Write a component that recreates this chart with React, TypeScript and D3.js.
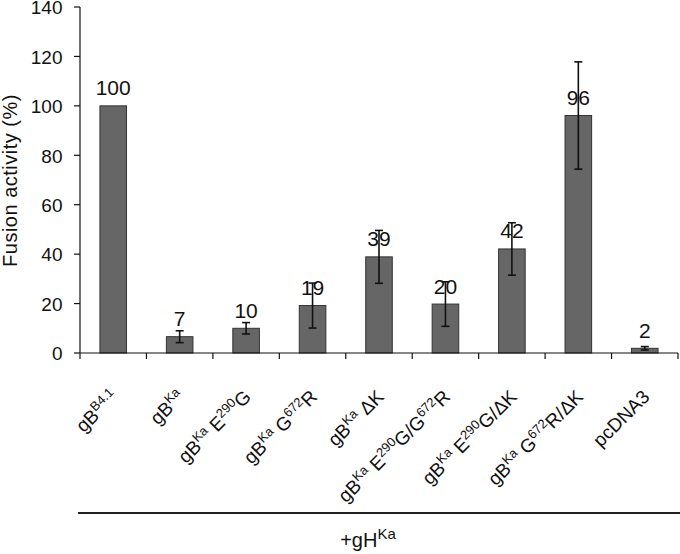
import React from "react";
import * as d3 from "d3";

const categories = [
  "gB^{B4.1}",
  "gB^{Ka}",
  "gB^{Ka} E^{290}G",
  "gB^{Ka} G^{672}R",
  "gB^{Ka} ΔK",
  "gB^{Ka} E^{290}G/G^{672}R",
  "gB^{Ka} E^{290}G/ΔK",
  "gB^{Ka} G^{672}R/ΔK",
  "pcDNA3",
];
const values = [100, 6.6, 10.0, 19.2, 38.9, 19.8, 42.1, 96.1, 1.9];
const errors = [0, 2.4, 2.3, 9.1, 10.7, 9.0, 10.6, 21.7, 0.7];
const valueLabels = ["100", "7", "10", "19", "39", "20", "42", "96", "2"];
const yTicks = [0, 20, 40, 60, 80, 100, 120, 140];
const yTitle = "Fusion activity (%)";
const groupLabel = "+gH^{Ka}";

const W = 680;
const H = 554;
const FONT = "'Liberation Sans', Arial, Helvetica, sans-serif";

function parse(s: string) {
  const parts: { t: string; sup: boolean }[] = [];
  const re = /\^\{([^}]*)\}/g;
  let last = 0;
  let m: RegExpExecArray | null;
  while ((m = re.exec(s))) {
    if (m.index > last) parts.push({ t: s.slice(last, m.index), sup: false });
    parts.push({ t: m[1], sup: true });
    last = m.index + m[0].length;
  }
  if (last < s.length) parts.push({ t: s.slice(last), sup: false });
  return parts;
}

function Rich({ s, size, supSize, rise }: { s: string; size: number; supSize: number; rise: number }) {
  const parts = parse(s);
  let cur = 0;
  return (
    <>
      {parts.map((p, i) => {
        const target = p.sup ? -rise : 0;
        const dy = target - cur;
        cur = target;
        return (
          <tspan key={i} dy={dy} fontSize={p.sup ? supSize : size}>
            {p.t}
          </tspan>
        );
      })}
    </>
  );
}

export default function App() {
  const left = 80;
  const right = 678;
  const x = d3
    .scaleBand<string>()
    .domain(categories)
    .range([left, right])
    .paddingInner(0.6)
    .paddingOuter(0.3);
  const y = d3.scaleLinear().domain([0, 140]).range([353, 7]);
  const step = x.step();
  const bw = x.bandwidth();
  const y0 = y(0);

  return (
    <svg
      width={W}
      height={H}
      style={{ position: "absolute", left: 0, top: 0, background: "#fff" }}
      fontFamily={FONT}
    >
      <rect width={W} height={H} fill="#fff" />
      {/* bars */}
      {categories.map((c, i) => (
        <rect
          key={c}
          x={x(c)!}
          y={y(values[i])}
          width={bw}
          height={y0 - y(values[i])}
          fill="#666666"
          stroke="#333"
          strokeWidth={1}
        />
      ))}
      {/* error bars */}
      {categories.map((c, i) => {
        if (!errors[i]) return null;
        const cx = x(c)! + bw / 2;
        const t = y(values[i] + errors[i]);
        const b = y(values[i] - errors[i]);
        return (
          <g key={"e" + i} stroke="#111" strokeWidth={1.6}>
            <line x1={cx} x2={cx} y1={t} y2={b} />
            <line x1={cx - 4} x2={cx + 4} y1={t} y2={t} />
            <line x1={cx - 4} x2={cx + 4} y1={b} y2={b} />
          </g>
        );
      })}
      {/* value labels */}
      {categories.map((c, i) => (
        <text
          key={"v" + i}
          x={x(c)! + bw / 2}
          y={y(values[i]) - 10.5}
          textAnchor="middle"
          fontSize={21}
          fill="#111"
        >
          {valueLabels[i]}
        </text>
      ))}
      {/* y axis */}
      <line x1={left} x2={left} y1={y(140)} y2={y0} stroke="#111" strokeWidth={1.2} />
      {yTicks.map((t) => (
        <g key={"yt" + t}>
          <line x1={left - 6} x2={left} y1={y(t)} y2={y(t)} stroke="#111" strokeWidth={1.2} />
          <text x={62.5} y={y(t) + 7.3} textAnchor="end" fontSize={19} fill="#111">
            {t}
          </text>
        </g>
      ))}
      {/* x axis */}
      <line x1={left} x2={right} y1={y0} y2={y0} stroke="#111" strokeWidth={1.2} />
      {d3.range(categories.length + 1).map((i) => (
        <line
          key={"xt" + i}
          x1={left + i * step}
          x2={left + i * step}
          y1={y0}
          y2={y0 + 6}
          stroke="#111"
          strokeWidth={1.2}
        />
      ))}
      {/* x labels */}
      {categories.map((c) => {
        const cx = x(c)! + bw / 2 + 6;
        const cy = 398;
        return (
          <text
            key={"xl" + c}
            transform={`translate(${cx},${cy}) rotate(-45)`}
            textAnchor="end"
            fontSize={19}
            fill="#111"
          >
            <Rich s={c} size={19} supSize={13} rise={7} />
          </text>
        );
      })}
      {/* y title */}
      <text
        transform={`translate(16.5,180.5) rotate(-90)`}
        textAnchor="middle"
        fontSize={20}
        letterSpacing={0.5}
        fill="#111"
      >
        {yTitle}
      </text>
      {/* group line & label */}
      <line x1={78} x2={680} y1={513} y2={513} stroke="#222" strokeWidth={2} />
      <text x={368} y={547} textAnchor="middle" fontSize={20} fill="#111">
        <Rich s={groupLabel} size={20} supSize={15} rise={8} />
      </text>
    </svg>
  );
}
